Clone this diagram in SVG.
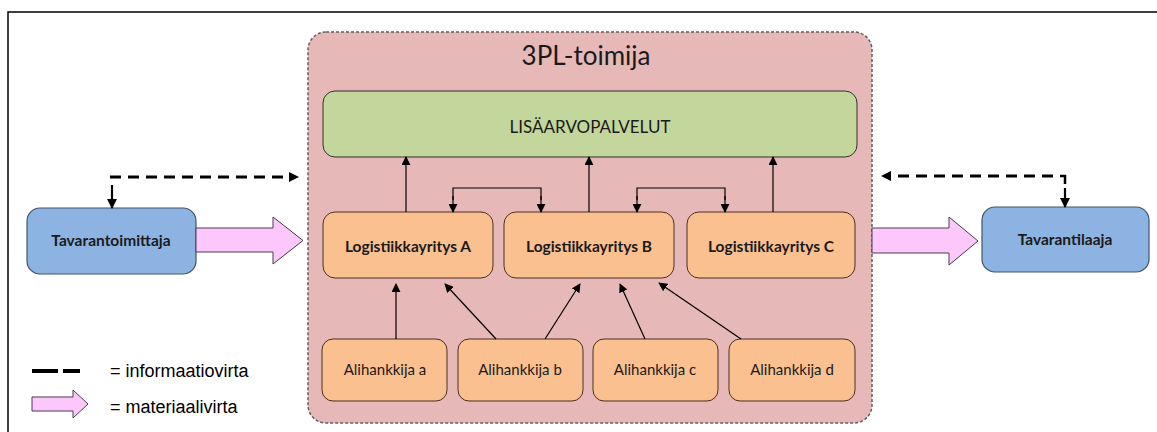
<svg xmlns="http://www.w3.org/2000/svg" width="1157" height="432" viewBox="0 0 1157 432">
<defs>
<marker id="ah" viewBox="0 0 10 10" refX="9" refY="5" markerWidth="9" markerHeight="9" markerUnits="userSpaceOnUse" orient="auto"><path d="M0,0 L10,5 L0,10 z" fill="#000"/></marker>
<marker id="ahb" viewBox="0 0 10 10" refX="9" refY="5" markerWidth="10" markerHeight="10" markerUnits="userSpaceOnUse" orient="auto"><path d="M0,0 L10,5 L0,10 z" fill="#000"/></marker>
</defs>
<style>
.frame{fill:none;stroke:#000;stroke-width:1.5}
.cont{fill:#e6b8b7;stroke:#5f5f5f;stroke-width:1.5;stroke-dasharray:3 2}
.green{fill:#c3d69b;stroke:#2f2f2f;stroke-width:1}
.orange{fill:#fac090;stroke:#4a3020;stroke-width:1}
.blue{fill:#8db3e2;stroke:#44546a;stroke-width:1.2}
.pink{fill:#fcc8fc;stroke:#4a3a50;stroke-width:1}
.t{font-family:Lato,"Open Sans",sans-serif;text-anchor:middle;fill:#1a1a1a}
.b{font-weight:bold;font-size:15.5px}
.r{font-size:15px}
.lg{font-family:"Liberation Sans",Arial,sans-serif;font-size:18px;fill:#000}
.ln{fill:none;stroke:#000;stroke-width:1.2;marker-end:url(#ah)}
.ln0{fill:none;stroke:#000;stroke-width:1.2}
.dash{fill:none;stroke:#000;stroke-width:3;stroke-dasharray:11 7}
.vd{fill:none;stroke:#000;stroke-width:2.2;marker-end:url(#ahb)}
</style>
<rect x="0" y="0" width="1157" height="432" fill="#fff"/>
<path class="frame" d="M8,432 L8,12 L1157,12"/>

<g id="container">
<rect class="cont" x="308" y="32" width="564" height="391" rx="18"/>
<text class="t" x="586" y="65" font-size="26" fill="#222">3PL-toimija</text>
</g>

<g id="lisaarvopalvelut">
<rect class="green" x="323" y="91" width="534" height="66" rx="12"/>
<text class="t" x="590" y="133" font-size="17" fill="#333">LISÄARVOPALVELUT</text>
</g>

<g id="logA">
<rect class="orange" x="323" y="212" width="170" height="66" rx="12"/>
<text class="t b" x="408" y="252">Logistiikkayritys A</text>
</g>
<g id="logB">
<rect class="orange" x="504" y="212" width="170" height="66" rx="12"/>
<text class="t b" x="589" y="252">Logistiikkayritys B</text>
</g>
<g id="logC">
<rect class="orange" x="687" y="212" width="168" height="66" rx="12"/>
<text class="t b" x="771" y="252">Logistiikkayritys C</text>
</g>

<g id="aliA">
<rect class="orange" x="322" y="339" width="125" height="62" rx="11"/>
<text class="t r" x="385" y="375">Alihankkija a</text>
</g>
<g id="aliB">
<rect class="orange" x="458" y="339" width="125" height="62" rx="11"/>
<text class="t r" x="520" y="375">Alihankkija b</text>
</g>
<g id="aliC">
<rect class="orange" x="593" y="339" width="125" height="62" rx="11"/>
<text class="t r" x="655" y="375">Alihankkija c</text>
</g>
<g id="aliD">
<rect class="orange" x="729" y="339" width="126" height="62" rx="11"/>
<text class="t r" x="792" y="375">Alihankkija d</text>
</g>

<g id="tavarantoimittaja">
<rect class="blue" x="27" y="208" width="169" height="66" rx="13"/>
<text class="t b" x="111" y="246" font-size="16" fill="#14213d">Tavarantoimittaja</text>
</g>
<g id="tavarantilaaja">
<rect class="blue" x="982" y="207" width="167" height="65" rx="13"/>
<text class="t b" x="1065" y="245" font-size="16" fill="#14213d">Tavarantilaaja</text>
</g>

<g id="connectors">
<line class="ln" x1="406" y1="212" x2="406" y2="157"/>
<line class="ln" x1="589" y1="212" x2="589" y2="157"/>
<line class="ln" x1="773" y1="212" x2="773" y2="157"/>
<path class="ln0" d="M453,200 L453,188 L541,188 L541,200"/>
<line class="ln" x1="453" y1="196" x2="453" y2="212"/>
<line class="ln" x1="541" y1="196" x2="541" y2="212"/>
<path class="ln0" d="M637,200 L637,188 L725,188 L725,200"/>
<line class="ln" x1="637" y1="196" x2="637" y2="212"/>
<line class="ln" x1="725" y1="196" x2="725" y2="212"/>
<line class="ln" x1="396" y1="339" x2="396" y2="284"/>
<line class="ln" x1="496" y1="339" x2="445" y2="284"/>
<line class="ln" x1="545" y1="339" x2="580" y2="284"/>
<line class="ln" x1="645" y1="339" x2="620" y2="284"/>
<line class="ln" x1="741" y1="339" x2="659" y2="283"/>
<line class="dash" x1="110" y1="177" x2="289" y2="177"/>
<path d="M289,172 L299,177 L289,182 z" fill="#000"/>
<line class="vd" x1="112" y1="185" x2="112" y2="208"/>
<line class="dash" x1="1053" y1="176" x2="890" y2="176"/>
<path d="M891,171 L881,176 L891,181 z" fill="#000"/>
<path d="M1060,176 L1065,176 L1065,184" fill="none" stroke="#000" stroke-width="2.5"/>
<line class="vd" x1="1065" y1="188" x2="1065" y2="207"/>
<path class="pink" d="M196,228 L273,228 L273,217 L303,240.5 L273,264 L273,252 L196,252 z"/>
<path class="pink" d="M872,228 L949,228 L949,217 L978,241 L949,265 L949,253 L872,253 z"/>
</g>

<g id="legend">
<line x1="32" y1="371" x2="58" y2="371" stroke="#000" stroke-width="4"/>
<line x1="63" y1="371" x2="80" y2="371" stroke="#000" stroke-width="4"/>
<text class="lg" x="110" y="377">= informaatiovirta</text>
<path class="pink" d="M32,397 L73,397 L73,390 L88,404 L73,418 L73,411 L32,411 z"/>
<text class="lg" x="110" y="413">= materiaalivirta</text>
</g>
</svg>
